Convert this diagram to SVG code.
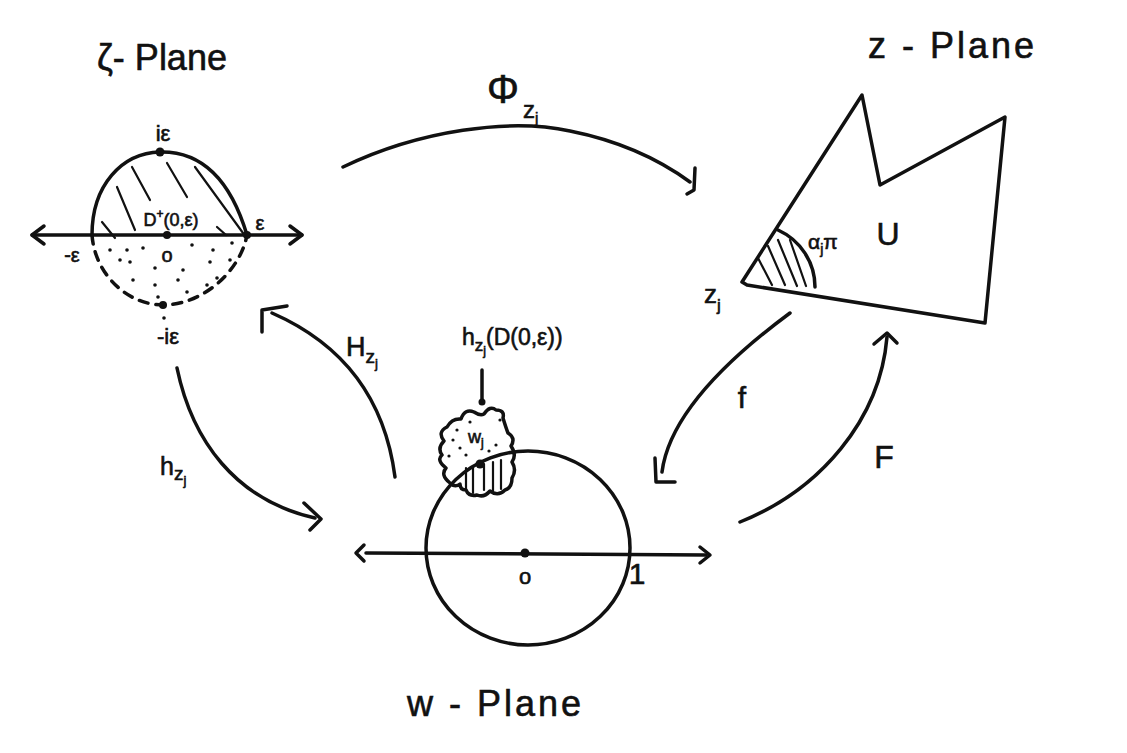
<svg xmlns="http://www.w3.org/2000/svg" width="1127" height="753" viewBox="0 0 1127 753">
<style>
.ln{fill:none;stroke:#111;stroke-width:3.5;stroke-linecap:round;stroke-linejoin:round}
.th{fill:none;stroke:#111;stroke-width:2.2;stroke-linecap:round}
.tx{font-family:"Liberation Sans",Arial,sans-serif;fill:#111;stroke:#111;stroke-width:0.6}
.dot{fill:#111}
</style>
<rect width="1127" height="753" fill="#fff"/>

<g id="zeta-plane">
<text class="tx" x="97" y="70" font-size="36">ζ- Plane</text>
<line class="ln" x1="32" y1="235" x2="302" y2="235"/>
<polyline class="ln" points="44,226 32,235 44,244"/>
<polyline class="ln" points="290,226 302,235 290,244"/>
<path class="ln" d="M92 235 C92 185 122 153 160 152 C205 151 232 185 247 235"/>
<path class="ln" d="M92 235 C95 275 128 305 163 305 C202 305 240 272 247 235" stroke-dasharray="9 8"/>
<line class="th" x1="117" y1="187" x2="135" y2="230"/>
<line class="th" x1="132" y1="167" x2="150" y2="200"/>
<line class="th" x1="167" y1="163" x2="187" y2="197"/>
<line class="th" x1="195" y1="167" x2="243" y2="233"/>
<line class="th" x1="102" y1="222" x2="115" y2="238"/>
<line class="th" x1="217" y1="227" x2="226" y2="235"/>
<g class="dot">
<circle cx="160" cy="152" r="4.5"/><circle cx="167" cy="235" r="4"/><circle cx="247" cy="235" r="4"/><circle cx="163" cy="305" r="4"/>
<circle cx="110" cy="250" r="1.8"/><circle cx="127" cy="250" r="1.8"/><circle cx="143" cy="248" r="1.8"/><circle cx="192" cy="245" r="1.8"/><circle cx="213" cy="250" r="1.8"/><circle cx="232" cy="243" r="1.8"/><circle cx="120" cy="260" r="1.8"/><circle cx="130" cy="262" r="1.8"/><circle cx="155" cy="268" r="1.8"/><circle cx="183" cy="270" r="1.8"/><circle cx="210" cy="262" r="1.8"/><circle cx="230" cy="260" r="1.8"/><circle cx="133" cy="280" r="1.8"/><circle cx="155" cy="285" r="1.8"/><circle cx="178" cy="280" r="1.8"/><circle cx="207" cy="285" r="1.8"/><circle cx="158" cy="297" r="1.8"/><circle cx="187" cy="292" r="1.8"/><circle cx="217" cy="278" r="1.8"/><circle cx="164" cy="318" r="1.8"/>
</g>
<text class="tx" x="163" y="141" font-size="22" text-anchor="middle">iε</text>
<text class="tx" x="171" y="226" font-size="18" text-anchor="middle">D<tspan font-size="12" dy="-8">+</tspan><tspan dy="8">(0,ε)</tspan></text>
<text class="tx" x="260" y="230" font-size="20" text-anchor="middle">ε</text>
<text class="tx" x="72" y="262" font-size="20" text-anchor="middle">-ε</text>
<text class="tx" x="167" y="262" font-size="20" text-anchor="middle">o</text>
<text class="tx" x="168" y="344" font-size="22" text-anchor="middle">-iε</text>
</g>

<g id="z-plane">
<text class="tx" x="868" y="58" font-size="36" letter-spacing="3">z - Plane</text>
<polygon class="ln" points="742,282 862,95 880,185 1005,117 985,323 747,285"/>
<path class="ln" d="M778 230 C800 240 815 262 815 287" stroke-width="2.8"/>
<line class="th" x1="758" y1="258" x2="772" y2="285"/>
<line class="th" x1="768" y1="246" x2="785" y2="285"/>
<line class="th" x1="778" y1="240" x2="797" y2="286"/>
<line class="th" x1="790" y1="240" x2="806" y2="286"/>
<text class="tx" x="808" y="249" font-size="21">α<tspan font-size="14" dy="5">j</tspan><tspan dy="-5">π</tspan></text>
<text class="tx" x="888" y="245" font-size="32" text-anchor="middle">U</text>
<text class="tx" x="704" y="303" font-size="26">z<tspan font-size="17" dy="8">j</tspan></text>
</g>

<g id="w-plane">
<text class="tx" x="407" y="716" font-size="36" letter-spacing="3">w - Plane</text>
<ellipse class="ln" cx="528" cy="548" rx="102" ry="97"/>
<line class="ln" x1="366" y1="553" x2="706" y2="555"/>
<polyline class="ln" points="364,545 356,553 364,561"/>
<polyline class="ln" points="700,547 710,555 700,563"/>
<circle class="dot" cx="525" cy="553" r="4.5"/>
<text class="tx" x="525" y="584" font-size="22" text-anchor="middle">o</text>
<text class="tx" x="637" y="584" font-size="30" text-anchor="middle">1</text>
<path class="ln" d="M450 483 Q440 475 446 468 Q436 460 442 455 Q437 448 444 441 Q437 432 447 427 Q452 418 461 419 Q465 408 474 412 Q480 416 484 414 Q490 405 496 410 Q505 410 503 418 Q506 428 508 433 Q516 438 511 446 Q517 455 512 462 Q517 470 512 478 Q512 488 505 490 Q498 497 490 491 Q484 498 477 495 Q469 497 466 490 Q460 490 460 484 Q455 488 450 483 Z" stroke-width="3"/>
<line class="th" x1="466" y1="468" x2="466" y2="490"/>
<line class="th" x1="473" y1="466" x2="473" y2="493"/>
<line class="th" x1="484" y1="464" x2="484" y2="490"/>
<line class="th" x1="493" y1="462" x2="493" y2="491"/>
<line class="th" x1="501" y1="460" x2="501" y2="489"/>
<g class="dot">
<circle cx="480" cy="464" r="4.5"/>
<circle cx="453" cy="440" r="1.6"/><circle cx="460" cy="448" r="1.6"/><circle cx="470" cy="422" r="1.6"/><circle cx="457" cy="430" r="1.6"/><circle cx="496" cy="445" r="1.6"/><circle cx="449" cy="456" r="1.6"/><circle cx="466" cy="455" r="1.6"/><circle cx="500" cy="420" r="1.6"/><circle cx="489" cy="451" r="1.6"/>
</g>
<text class="tx" x="468" y="443" font-size="18">w<tspan font-size="12" dy="4">j</tspan></text>
<line class="ln" x1="482" y1="370" x2="482" y2="400" stroke-width="2.8"/>
<circle class="dot" cx="482" cy="402" r="3.5"/>
<text class="tx" x="462" y="345" font-size="23">h<tspan font-size="17" dy="6">z</tspan><tspan font-size="12" dy="4">j</tspan><tspan dy="-10">(D(0,ε))</tspan></text>
</g>

<g id="connectors">
<path class="ln" d="M343 167 C420 130 510 118 570 131 C620 141 660 160 690 182"/>
<polyline class="ln" points="695,168 694,190 687,194"/>
<path class="ln" d="M395 477 C385 400 345 345 272 313"/>
<polyline class="ln" points="262,332 262,310 287,306"/>
<path class="ln" d="M177 368 C192 440 235 500 315 518"/>
<polyline class="ln" points="304,503 321,519 310,530"/>
<path class="ln" d="M790 313 C740 350 670 410 662 472"/>
<polyline class="ln" points="655,458 656,482 675,482"/>
<path class="ln" d="M740 522 C820 490 880 420 887 337"/>
<polyline class="ln" points="874,344 887,333 897,343"/>
<text class="tx" x="503" y="103" font-size="40" text-anchor="middle">Φ</text>
<text class="tx" x="523" y="118" font-size="24">z<tspan font-size="15" dy="5">j</tspan></text>
<text class="tx" x="346" y="356" font-size="27">H<tspan font-size="19" dy="7">z</tspan><tspan font-size="13" dy="5">j</tspan></text>
<text class="tx" x="160" y="475" font-size="25">h<tspan font-size="19" dy="5">z</tspan><tspan font-size="13" dy="5">j</tspan></text>
<text class="tx" x="742" y="408" font-size="30" text-anchor="middle">f</text>
<text class="tx" x="884" y="468" font-size="32" text-anchor="middle">F</text>
</g>
</svg>
